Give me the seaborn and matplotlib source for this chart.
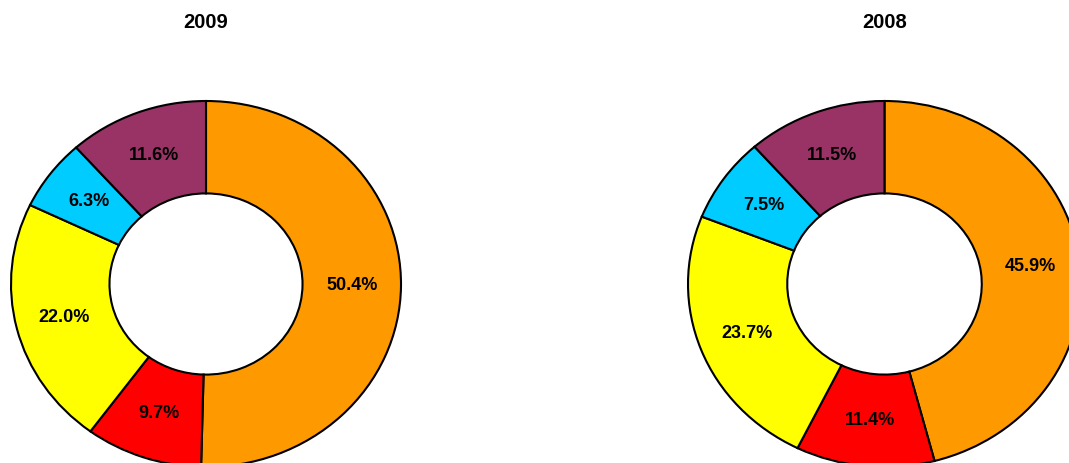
import matplotlib.pyplot as plt
import seaborn as sns

sns.set_theme(style="white")
plt.rcParams["font.family"] = ["Liberation Sans", "DejaVu Sans"]

# segment order, clockwise from 12 o'clock
segments = ["A", "B", "C", "D", "E"]
seg_colors = ["#FF9900", "#FF0000", "#FFFF00", "#00CCFF", "#993366"]
share_2009 = [50.4, 9.7, 22.0, 6.3, 11.6]
share_2008 = [45.9, 11.4, 23.7, 7.5, 11.5]
years = ["2009", "2008"]

W, H = 1069, 463
fig = plt.figure(figsize=(W / 100, H / 100), dpi=100)
fig.patch.set_facecolor("white")

PAD = 1.05


def donut(values, title, cx, cy, rx, ry):
    # axes box in figure fraction, slightly bigger than the ring so edges are not clipped
    ax = fig.add_axes([(cx - rx * PAD) / W, 1 - (cy + ry * PAD) / H,
                       2 * rx * PAD / W, 2 * ry * PAD / H])
    ax.pie(values, colors=seg_colors, startangle=90, counterclock=False,
           autopct="%.1f%%", pctdistance=0.75,
           wedgeprops=dict(width=0.505, edgecolor="black", linewidth=1.5),
           textprops=dict(fontsize=13, fontweight="bold", color="black"))
    ax.set_aspect("auto")
    ax.set_xlim(-PAD, PAD)
    ax.set_ylim(-PAD, PAD)
    ax.axis("off")
    fig.text(cx / W, 1 - 23 / H, title, ha="center", va="center",
             fontsize=14.5, fontweight="bold", color="black")


donut(share_2009, years[0], 206, 284, 195, 183)
donut(share_2008, years[1], 884.5, 284, 196.5, 183)

fig.savefig("out.png", dpi=100, facecolor="white")
